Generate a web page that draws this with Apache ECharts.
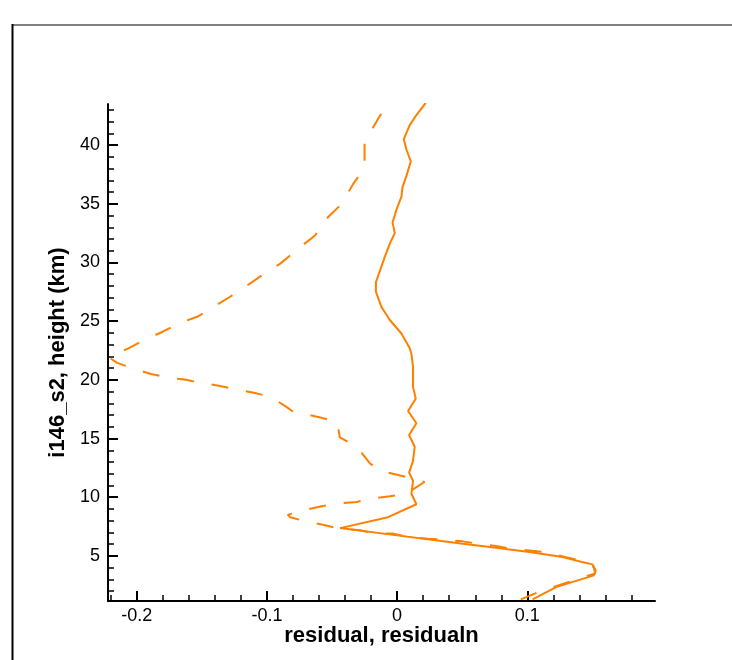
<!DOCTYPE html>
<html>
<head>
<meta charset="utf-8">
<script src="https://cdn.jsdelivr.net/npm/echarts@6/dist/echarts.min.js"></script>
<style>
html,body{margin:0;padding:0;background:#fff;}
#chart{width:732px;height:660px;}
</style>
</head>
<body>
<div id="chart"></div>
<script>
// residual (solid) : x = residual, y = height (km)
var solidX = [0.104, 0.122, 0.151, 0.1525, 0.150, 0.142, 0.127, 0.1015, 0.076, 0.0505, 0.025, 0.0, -0.0438, -0.007, 0.0148, 0.011, 0.0122, 0.0092, 0.0122, 0.0135, 0.0092, 0.0148, 0.0084, 0.0143, 0.0122, 0.0122, 0.011, 0.0097, 0.0033, -0.0056, -0.012, -0.0163, -0.0163, -0.0132, -0.0094, -0.0056, -0.0018, -0.0035, -0.0005, 0.0033, 0.0041, 0.0072, 0.0105, 0.0072, 0.0051, 0.0097, 0.0148, 0.022];
var solidY = [1.3, 2.34, 3.34, 3.77, 4.28, 4.48, 4.9, 5.33, 5.7, 6.04, 6.39, 6.75, 7.37, 8.3, 9.4, 10.3, 11.4, 12.1, 13.1, 14.3, 15.3, 16.3, 17.35, 18.4, 19.4, 21.1, 22.2, 22.7, 23.95, 25.1, 26.2, 27.5, 28.3, 29.3, 30.5, 31.6, 32.5, 33.4, 34.5, 35.6, 36.4, 37.4, 38.6, 39.6, 40.5, 41.7, 42.56, 43.6];
// residualn (dashed)
var dashX = [0.095, 0.108, 0.146, 0.152, 0.151, 0.14, 0.1296, 0.114, 0.1015, 0.0875, 0.076, 0.061, 0.0505, 0.035, 0.0237, 0.0084, -0.003, -0.018, -0.0286, -0.044, -0.057, -0.069, -0.082, -0.084, -0.072, -0.057, -0.046, -0.031, -0.0196, -0.0056, 0.0072, 0.021, 0.0194, 0.0072, -0.007, -0.0145, -0.021, -0.031, -0.044, -0.046, -0.059, -0.080, -0.085, -0.097, -0.110, -0.124, -0.137, -0.151, -0.162, -0.176, -0.189, -0.202, -0.215, -0.221, -0.206, -0.194, -0.180, -0.168, -0.153, -0.141, -0.128, -0.117, -0.1025, -0.0897, -0.0757, -0.063, -0.054, -0.0425, -0.0337, -0.026, -0.025, -0.025, -0.02, -0.0132, -0.0064];
var dashY = [1.3, 1.9, 3.3, 3.5, 4.05, 4.62, 4.9, 5.33, 5.47, 5.62, 5.84, 6.05, 6.24, 6.39, 6.47, 6.6, 6.9, 6.95, 7.18, 7.32, 7.66, 7.9, 8.3, 8.5, 8.9, 9.25, 9.45, 9.6, 9.9, 10.08, 10.3, 11.3, 11.36, 11.72, 12.1, 12.35, 12.9, 14.3, 15.1, 16.4, 16.8, 17.3, 17.7, 18.55, 18.9, 19.2, 19.5, 19.75, 20.0, 20.2, 20.5, 20.95, 21.45, 21.9, 22.7, 23.4, 24.1, 24.8, 25.4, 26.2, 27.1, 27.9, 29.0, 29.9, 31.2, 32.3, 33.75, 35.0, 36.7, 37.9, 38.5, 40.4, 41.2, 42.5, 43.5];

var xMajor = [-0.2, -0.1, 0, 0.1];
var xMinor = [-0.22, -0.18, -0.16, -0.14, -0.12, -0.08, -0.06, -0.04, -0.02, 0.02, 0.04, 0.06, 0.08, 0.12, 0.14, 0.16, 0.18];
var yMajor = [5, 10, 15, 20, 25, 30, 35, 40];
var yMinor = [2, 3, 4, 6, 7, 8, 9, 11, 12, 13, 14, 16, 17, 18, 19, 21, 22, 23, 24, 26, 27, 28, 29, 31, 32, 33, 34, 36, 37, 38, 39, 41, 42, 43];

var xName = 'residual, residualn';
var yName = 'i146_s2, height (km)';

function pairs(xs, ys) {
  var out = [];
  for (var i = 0; i < xs.length; i++) out.push([xs[i], ys[i]]);
  return out;
}

var X_MIN = -0.222, X_MAX = 0.198, Y_MIN = 1.16, Y_MAX = 43.5;
var FONT = '"Liberation Sans", Arial, sans-serif';
var ORANGE = '#ff8000';

var chart = echarts.init(document.getElementById('chart'), null, {renderer: 'canvas'});
chart.setOption({
  animation: false,
  backgroundColor: '#ffffff',
  grid: {left: 108, right: 77, top: 104, bottom: 59, containLabel: false},
  xAxis: [{
    type: 'value', min: X_MIN, max: X_MAX, position: 'bottom',
    name: xName, nameLocation: 'middle', nameGap: 24, nameMoveOverlap: false,
    nameTextStyle: {fontFamily: FONT, fontSize: 22, fontWeight: 'bold', color: '#000'},
    axisLine: {show: true, onZero: false, lineStyle: {color: '#000', width: 2}},
    axisTick: {show: true, inside: true, length: 10, customValues: xMajor, lineStyle: {color: '#000', width: 2}},
    axisLabel: {show: true, customValues: xMajor, margin: 6, fontFamily: FONT, fontSize: 18, color: '#000',
      formatter: function (v) { return v === 0 ? '0' : String(+v.toFixed(2)); }},
    splitLine: {show: false}
  }, {
    type: 'value', min: X_MIN, max: X_MAX, position: 'bottom', offset: 0,
    axisLine: {show: false, onZero: false},
    axisTick: {show: true, inside: true, length: 6, customValues: xMinor, lineStyle: {color: '#000', width: 1.5}},
    axisLabel: {show: false},
    splitLine: {show: false}
  }],
  yAxis: [{
    type: 'value', min: Y_MIN, max: Y_MAX, position: 'left',
    name: yName, nameLocation: 'middle', nameGap: 39, nameRotate: 90, nameMoveOverlap: false,
    nameTextStyle: {fontFamily: FONT, fontSize: 22, fontWeight: 'bold', color: '#000'},
    axisLine: {show: true, onZero: false, lineStyle: {color: '#000', width: 2}},
    axisTick: {show: true, inside: true, length: 10, customValues: yMajor, lineStyle: {color: '#000', width: 2}},
    axisLabel: {show: true, customValues: yMajor, margin: 8, fontFamily: FONT, fontSize: 18, color: '#000'},
    splitLine: {show: false}
  }, {
    type: 'value', min: Y_MIN, max: Y_MAX, position: 'left', offset: 0,
    axisLine: {show: false, onZero: false},
    axisTick: {show: true, inside: true, length: 6, customValues: yMinor, lineStyle: {color: '#000', width: 1.5}},
    axisLabel: {show: false},
    splitLine: {show: false}
  }],
  series: [{
    name: 'residual', type: 'line', xAxisIndex: 0, yAxisIndex: 0,
    data: pairs(solidX, solidY), showSymbol: false, symbol: 'none', clip: true,
    lineStyle: {color: ORANGE, width: 2, type: 'solid'}
  }, {
    name: 'residualn', type: 'line', xAxisIndex: 0, yAxisIndex: 0,
    data: pairs(dashX, dashY), showSymbol: false, symbol: 'none', clip: true,
    lineStyle: {color: ORANGE, width: 2, type: [17, 18]}
  }],
  graphic: [{
    type: 'line', silent: true,
    shape: {x1: 12, y1: 25, x2: 732, y2: 25},
    style: {stroke: '#808080', lineWidth: 2}
  }, {
    type: 'line', silent: true,
    shape: {x1: 12.5, y1: 24, x2: 12.5, y2: 660},
    style: {stroke: '#000', lineWidth: 2}
  }]
});
</script>
</body>
</html>
